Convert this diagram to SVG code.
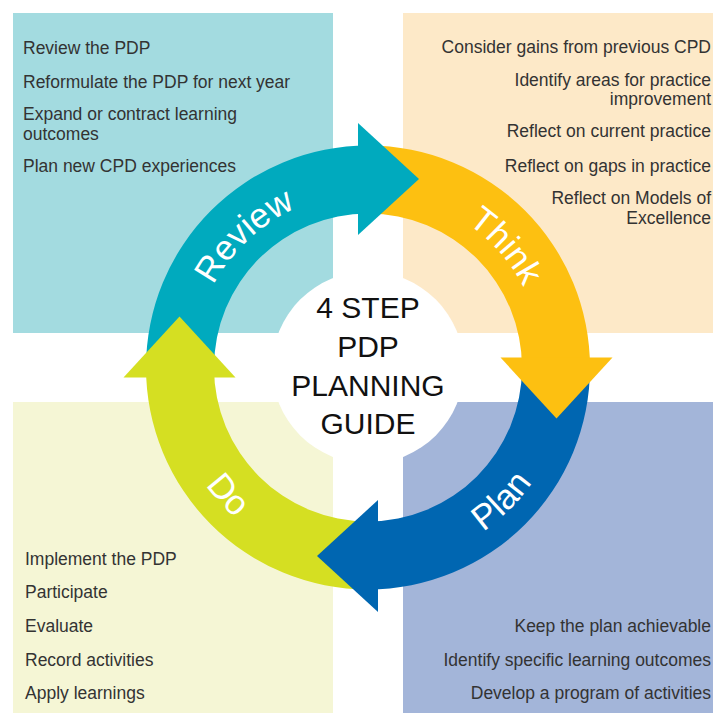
<svg xmlns="http://www.w3.org/2000/svg" xmlns:xlink="http://www.w3.org/1999/xlink" width="713" height="713" viewBox="0 0 713 713">
  <style>
    .list { font-family: "Liberation Sans", Arial, sans-serif; font-size: 17.5px; fill: #333; }
    .r { text-anchor: end; }
    .center { font-family: "Liberation Sans", Arial, sans-serif; font-size: 30px; fill: #111; text-anchor: middle; }
    .lbl { font-family: "Liberation Sans", Arial, sans-serif; font-size: 35px; fill: #fff; text-anchor: middle; }
  </style>
  <defs>
    <path id="body" d="M146,367.5 A222,222 0 0 1 368,145.5 L368,213.5 A154,154 0 0 0 214,367.5 Z"/>
    <polygon id="head" points="358,123 419,179 358,235"/>
    <path id="pReview" d="M193,367.5 A175,175 0 0 1 368,192.5"/>
    <path id="pThink" d="M368,192.5 A175,175 0 0 1 543,367.5"/>
    <path id="pDo" d="M167.5,367.5 A200.5,200.5 0 0 0 368,568"/>
    <path id="pPlan" d="M368,568 A200.5,200.5 0 0 0 568.5,367.5"/>
  </defs>
  <rect width="713" height="713" fill="#fff"/>

  <g id="review-box">
    <rect x="13" y="13" width="320" height="320" fill="#a3dbe0"/>
    <text class="list" x="23" y="54">Review the PDP</text>
    <text class="list" x="23" y="88">Reformulate the PDP for next year</text>
    <text class="list" x="23" y="120"><tspan x="23">Expand or contract learning</tspan><tspan x="23" dy="19.7">outcomes</tspan></text>
    <text class="list" x="23" y="172">Plan new CPD experiences</text>
  </g>

  <g id="think-box">
    <rect x="403" y="13" width="310" height="320" fill="#fde9c8"/>
    <text class="list r" x="711" y="53">Consider gains from previous CPD</text>
    <text class="list r" x="711" y="85.5"><tspan x="711">Identify areas for practice</tspan><tspan x="711" dy="19.7">improvement</tspan></text>
    <text class="list r" x="711" y="137">Reflect on current practice</text>
    <text class="list r" x="711" y="172">Reflect on gaps in practice</text>
    <text class="list r" x="711" y="204"><tspan x="711">Reflect on Models of</tspan><tspan x="711" dy="19.7">Excellence</tspan></text>
  </g>

  <g id="do-box">
    <rect x="13" y="402" width="320" height="311" fill="#f5f6d5"/>
    <text class="list" x="25" y="565">Implement the PDP</text>
    <text class="list" x="25" y="598">Participate</text>
    <text class="list" x="25" y="632">Evaluate</text>
    <text class="list" x="25" y="666">Record activities</text>
    <text class="list" x="25" y="699">Apply learnings</text>
  </g>

  <g id="plan-box">
    <rect x="403" y="402" width="310" height="311" fill="#a3b5d9"/>
    <text class="list r" x="711" y="632">Keep the plan achievable</text>
    <text class="list r" x="711" y="666">Identify specific learning outcomes</text>
    <text class="list r" x="711" y="699">Develop a program of activities</text>
  </g>

  <g id="center">
    <circle cx="368" cy="367.5" r="96" fill="#fff"/>
    <text class="center" x="368" y="318">4 STEP</text>
    <text class="center" x="368" y="357">PDP</text>
    <text class="center" x="368" y="396">PLANNING</text>
    <text class="center" x="368" y="434">GUIDE</text>
  </g>

  <g id="connectors">
    <use xlink:href="#body" fill="#00aabe"/>
    <use xlink:href="#body" fill="#fdc011" transform="rotate(90 368 367.5)"/>
    <use xlink:href="#body" fill="#0066b1" transform="rotate(180 368 367.5)"/>
    <use xlink:href="#body" fill="#d5df22" transform="rotate(270 368 367.5)"/>
    <use xlink:href="#head" fill="#00aabe"/>
    <use xlink:href="#head" fill="#fdc011" transform="rotate(90 368 367.5)"/>
    <use xlink:href="#head" fill="#0066b1" transform="rotate(180 368 367.5)"/>
    <use xlink:href="#head" fill="#d5df22" transform="rotate(270 368 367.5)"/>
  </g>

  <g id="labels">
    <text class="lbl"><textPath xlink:href="#pReview" startOffset="52%">Review</textPath></text>
    <text class="lbl"><textPath xlink:href="#pThink" startOffset="54%">Think</textPath></text>
    <text class="lbl"><textPath xlink:href="#pDo" startOffset="47%">Do</textPath></text>
    <text class="lbl"><textPath xlink:href="#pPlan" startOffset="50%">Plan</textPath></text>
  </g>
</svg>
